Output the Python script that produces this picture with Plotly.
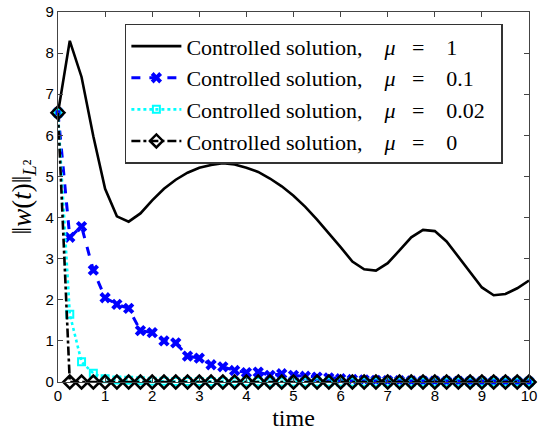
import plotly.graph_objects as go

t = [0, 0.25, 0.5, 0.75, 1, 1.25, 1.5, 1.75, 2, 2.25, 2.5, 2.75, 3, 3.25, 3.5, 3.75,
     4, 4.25, 4.5, 4.75, 5, 5.25, 5.5, 5.75, 6, 6.25, 6.5, 6.75, 7, 7.25, 7.5, 7.75,
     8, 8.25, 8.5, 8.75, 9, 9.25, 9.5, 9.75, 10]

mu_1 = [6.55, 8.30, 7.42, 5.98, 4.70, 4.03, 3.90, 4.10, 4.42, 4.70, 4.92, 5.09,
        5.21, 5.28, 5.32, 5.29, 5.21, 5.11, 4.95, 4.76, 4.53, 4.26, 3.95, 3.62,
        3.28, 2.93, 2.74, 2.71, 2.89, 3.20, 3.52, 3.70, 3.67, 3.42, 3.05, 2.68,
        2.30, 2.11, 2.14, 2.28, 2.47]

mu_01 = [6.55, 3.52, 3.78, 2.72, 2.05, 1.89, 1.79, 1.25, 1.20, 1.00, 0.95, 0.63,
         0.58, 0.42, 0.37, 0.28, 0.23, 0.24, 0.16, 0.20, 0.16, 0.14, 0.12, 0.10,
         0.08, 0.06, 0.05, 0.04, 0.035, 0.03, 0.025, 0.02, 0.02, 0.015, 0.015, 0.01,
         0.01, 0.01, 0.01, 0.005, 0.005]

mu_002 = [6.55, 1.65, 0.49, 0.21, 0.08, 0.05, 0.04, 0.03, 0.02, 0.02, 0.01, 0.01,
          0.01, 0.01, 0.005, 0.005, 0.005, 0.005, 0, 0, 0, 0, 0, 0,
          0, 0, 0, 0, 0, 0, 0, 0, 0, 0, 0, 0,
          0, 0, 0, 0, 0]

mu_0 = [6.55, 0, 0, 0, 0, 0, 0, 0, 0, 0, 0, 0,
        0, 0, 0, 0, 0, 0, 0, 0, 0, 0, 0, 0,
        0, 0, 0, 0, 0, 0, 0, 0, 0, 0, 0, 0,
        0, 0, 0, 0, 0]

mu_labels = ["1", "0.1", "0.02", "0"]
names = ["Controlled solution,&nbsp;&nbsp;&nbsp; <i>μ</i>&nbsp;&nbsp; =&nbsp;&nbsp;&nbsp; "
         + m + "&nbsp;&nbsp;" for m in mu_labels]

fig = go.Figure()
fig.add_trace(go.Scatter(x=t, y=mu_1, mode="lines", name=names[0],
                         line=dict(color="black", width=2.6), cliponaxis=False))
fig.add_trace(go.Scatter(x=t, y=mu_01, mode="lines+markers", name=names[1],
                         line=dict(color="#0000FF", width=3, dash="dash"),
                         marker=dict(symbol="x", size=10, color="#0000FF"), cliponaxis=False))
fig.add_trace(go.Scatter(x=t, y=mu_002, mode="lines+markers", name=names[2],
                         line=dict(color="#00FFFF", width=2.6, dash="dot"),
                         marker=dict(symbol="square-open", size=7, color="#00FFFF",
                                     line=dict(width=2, color="#00FFFF")), cliponaxis=False))
fig.add_trace(go.Scatter(x=t, y=mu_0, mode="lines+markers", name=names[3],
                         line=dict(color="black", width=2.6, dash="dashdot"),
                         marker=dict(symbol="diamond-open", size=10, color="black",
                                     line=dict(width=2.5, color="black")), cliponaxis=False))

axis_common = dict(showgrid=False, zeroline=False, showline=True, linecolor="#444",
                   linewidth=1.2, mirror="ticks", ticks="inside", ticklen=5,
                   tickcolor="#444", automargin=False,
                   tickfont=dict(family="Liberation Sans", size=15, color="black"))

fig.update_layout(
    width=542, height=436,
    margin=dict(l=58, r=13, t=12, b=54),
    paper_bgcolor="white", plot_bgcolor="white",
    showlegend=True,
    legend=dict(x=0.142, y=0.968, xanchor="left", yanchor="top",
                bgcolor="white", bordercolor="#333", borderwidth=1.5,
                font=dict(family="Liberation Serif", size=22, color="black"),
                traceorder="normal", itemwidth=50),
    xaxis=dict(range=[0, 10], dtick=1, tick0=0,
               title=dict(text="time", font=dict(family="Liberation Serif", size=24, color="black"), standoff=6),
               **axis_common),
    yaxis=dict(range=[0, 9], dtick=1, tick0=0,
               title=dict(text="‖<i>w</i>(<i>t</i>)‖<sub><i>L</i>²</sub>",
                          font=dict(family="Liberation Serif", size=27, color="black"), standoff=6),
               **axis_common),
)

fig.write_html("out.html", config={"displayModeBar": False},
               post_script="document.body.style.margin='0';")
